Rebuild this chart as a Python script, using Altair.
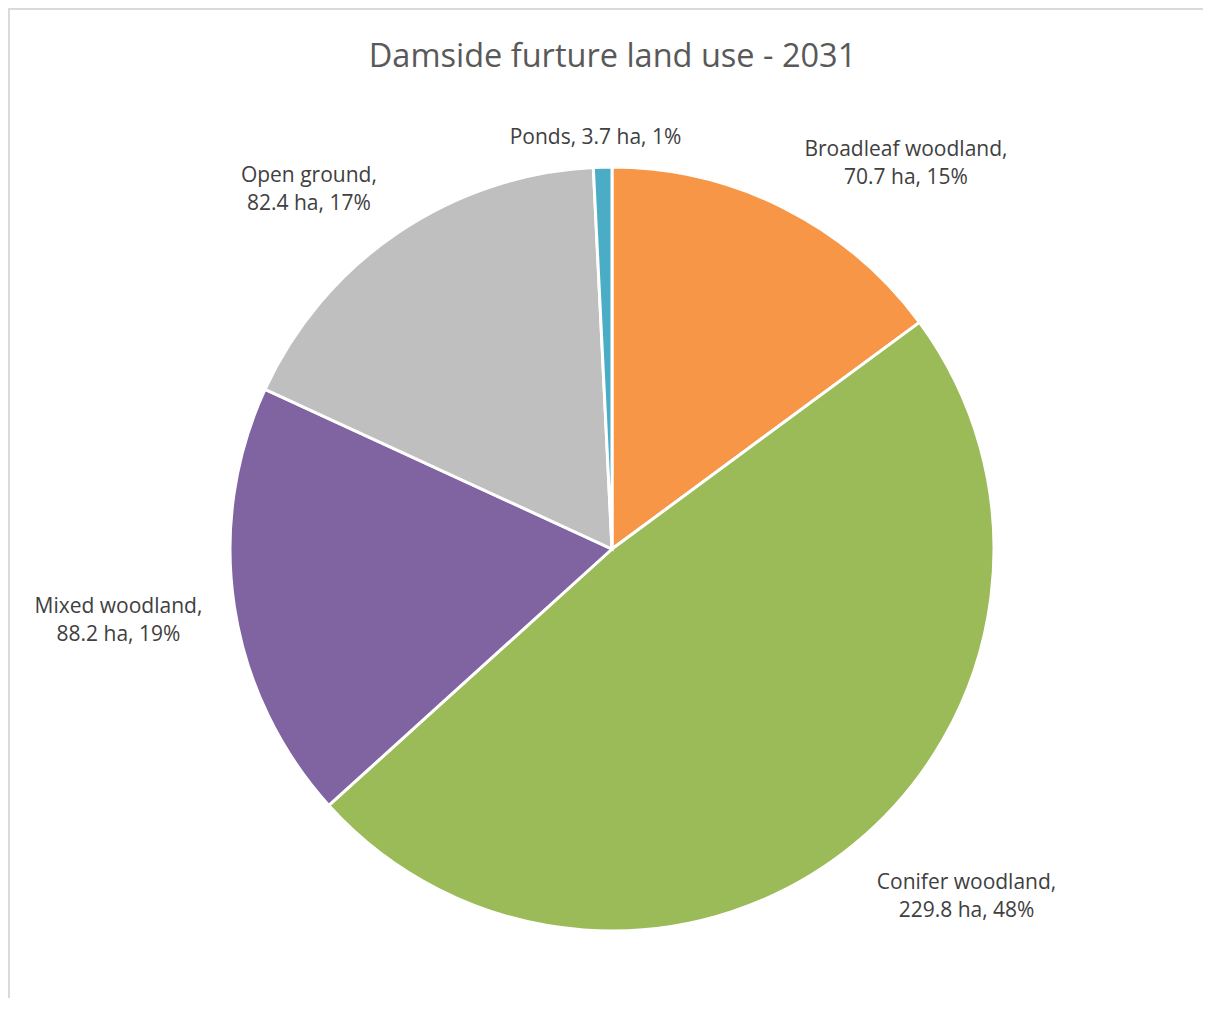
import math
import altair as alt
import pandas as pd

# ---- data ----
categories = ["Broadleaf woodland", "Conifer woodland", "Mixed woodland", "Open ground", "Ponds"]
areas = [70.7, 229.8, 88.2, 82.4, 3.7]
colors = ["#F79646", "#9BBB59", "#8064A2", "#BFBFBF", "#4BACC6"]
title_text = "Damside furture land use - 2031"

total = sum(areas)
labels = []
for c, a in zip(categories, areas):
    pct = round(a / total * 100)
    if c == "Ponds":
        labels.append(f"{c}, {a} ha, {pct}%")
    else:
        labels.append(f"{c},\n{a} ha, {pct}%")

df = pd.DataFrame({"idx": list(range(len(categories))), "category": categories,
                   "area": areas, "label": labels})

# ---- layout / style (not data) ----
W, H = 1195, 990
CX, CY = 604, 541          # pie centre inside the plot area
R = 382
LABEL_R = 470
FONT = "Open Sans"
nudge = {  # per-label offsets from the mid-angle anchor (Excel "best fit")
    "Broadleaf woodland": (82, 21),
    "Conifer woodland": (57, -30),
    "Mixed woodland": (-29, -13),
    "Open ground": (-40, 16),
    "Ponds": (-5, 59),
}

base = alt.Chart(df)

pie = base.mark_arc(outerRadius=R, stroke="white", strokeWidth=3).encode(
    theta=alt.Theta("area:Q", stack=True),
    order=alt.Order("idx:Q"),
    color=alt.Color("category:N", scale=alt.Scale(domain=categories, range=colors), legend=None),
    x=alt.value(CX),
    y=alt.value(CY),
)

text_base = base.transform_window(
    cum="sum(area)", sort=[alt.SortField("idx")], frame=[None, 0]
).transform_calculate(mid="datum.cum - datum.area / 2")

label_layers = []
for cat in categories:
    dx, dy = nudge[cat]
    label_layers.append(
        text_base.transform_filter(alt.datum.category == cat)
        .mark_text(radius=LABEL_R, dx=dx, dy=dy, font=FONT, fontSize=21, color="#404040",
                   align="center", baseline="middle", lineBreak="\n", lineHeight=28)
        .encode(
            theta=alt.Theta("mid:Q", stack=False, scale=alt.Scale(domain=[0, total])),
            text="label:N",
            x=alt.value(CX),
            y=alt.value(CY),
        )
    )

border_left = alt.Chart(df).mark_rule(color="#D9D9D9", strokeWidth=1.5).encode(
    x=alt.value(0.75), y=alt.value(0), y2=alt.value(H)
)
border_top = alt.Chart(df).mark_rule(color="#D9D9D9", strokeWidth=1.5).encode(
    x=alt.value(0), x2=alt.value(W), y=alt.value(0.75)
)

chart = alt.layer(pie, *label_layers, border_left, border_top).resolve_scale(
    theta="independent"
).properties(
    width=W,
    height=H,
    padding=0,
    autosize=alt.AutoSizeParams(type="none"),
    background="white",
    title=alt.TitleParams(
        text=title_text, font=FONT, fontSize=32.5, fontWeight="normal", color="#595959",
        anchor="middle", frame="group", baseline="alphabetic", offset=0, dy=92, dx=7,
    ),
).configure_view(stroke=None)

chart.save("out.html", embed_options={"renderer": "svg", "actions": False})
